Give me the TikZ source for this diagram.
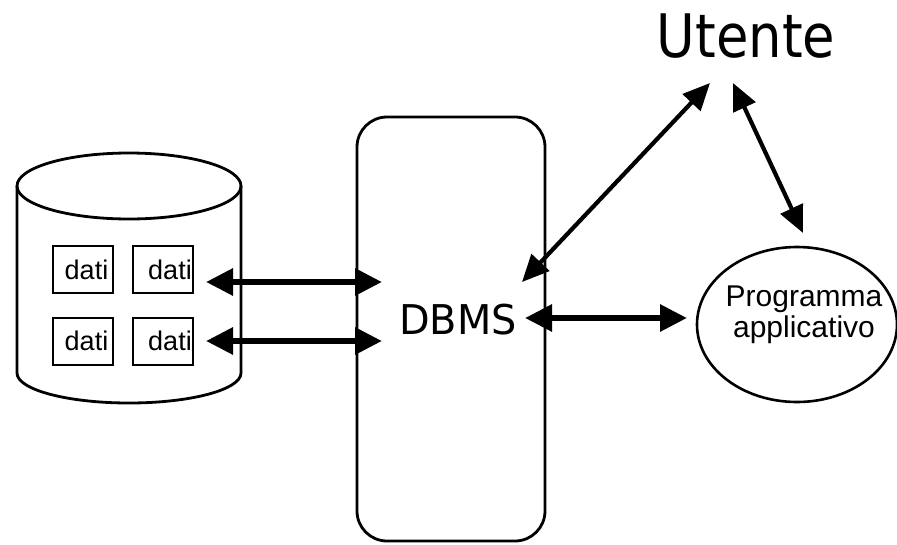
\documentclass[tikz,border=0pt]{standalone}
\usepackage{fontspec}
\setmainfont{Liberation Sans}
\newfontfamily\dejavu{DejaVu Sans}
\usetikzlibrary{arrows.meta,shapes.geometric}
\tikzset{
  outline/.style={draw=black, line width=2.8pt},
  datibox/.style={draw=black, line width=2pt, minimum width=60pt, minimum height=47pt, inner sep=0pt,
    font=\fontsize{27}{30}\selectfont},
  bigarrow/.style={line width=6pt, {Triangle[length=27pt,width=26pt]}-{Triangle[length=27pt,width=26pt]}},
  diagarrow/.style={line width=4.2pt, {Triangle[length=27pt,width=24pt]}-{Triangle[length=27pt,width=24pt]}},
}
\begin{document}
\begin{tikzpicture}[x=1pt,y=-1pt]
\useasboundingbox (0,0) rectangle (897,544);
% cylinder
\draw[outline] (129,186) ellipse [x radius=112, y radius=33];
\draw[outline] (17,186) -- (17,373)
  .. controls (17,389.6) and (67.1,403) .. (129,403)
  .. controls (190.9,403) and (241,389.6) .. (241,373) -- (241,186);
% dati boxes
\node[datibox] (d11) at (82.5,269.5) {\hspace{8pt}dati};
\node[datibox] (d12) at (163,269.5) {\hspace{14pt}dati};
\node[datibox] (d21) at (82.5,341) {\hspace{8pt}dati};
\node[datibox] (d22) at (163,341) {\hspace{14pt}dati};
% DBMS box
\node[outline, rounded corners=30pt, minimum width=188pt, minimum height=424pt, inner sep=0pt] (dbms) at (451,329) {};
\node[font=\dejavu\fontsize{41}{48}\selectfont, inner sep=0pt] (dbmslabel) at (458,320) {\scalebox{0.97}[1]{DBMS}};
% Utente
\node[font=\dejavu\fontsize{60}{70}\selectfont, inner sep=0pt, anchor=base] (utente) at (746,57) {\scalebox{0.88}[1]{Utente}};
% Programma applicativo
\node[draw=black, line width=2.6pt, ellipse, minimum width=200pt, minimum height=155pt, inner sep=0pt] (prog) at (797,324.5) {};
\node[font=\fontsize{30}{31}\selectfont, align=center, inner sep=0pt] (proglabel) at (804,315) {Programma\\applicativo};
% connector ends
\coordinate (a1) at (206,282);
\coordinate (b1) at (382,282);
\coordinate (a2) at (206,341);
\coordinate (b2) at (382,341);
\coordinate (c1) at (525,318);
\coordinate (c2) at (687,318);
\coordinate (u1) at (710,83);
\coordinate (u2) at (522,282);
\coordinate (v1) at (733,83);
\coordinate (v2) at (803,233);
% connectors
\draw[bigarrow] (a1) -- (b1);
\draw[bigarrow] (a2) -- (b2);
\draw[bigarrow] (c1) -- (c2);
\draw[diagarrow] (u2) -- (u1);
\draw[diagarrow] (v1) -- (v2);
\end{tikzpicture}
\end{document}
